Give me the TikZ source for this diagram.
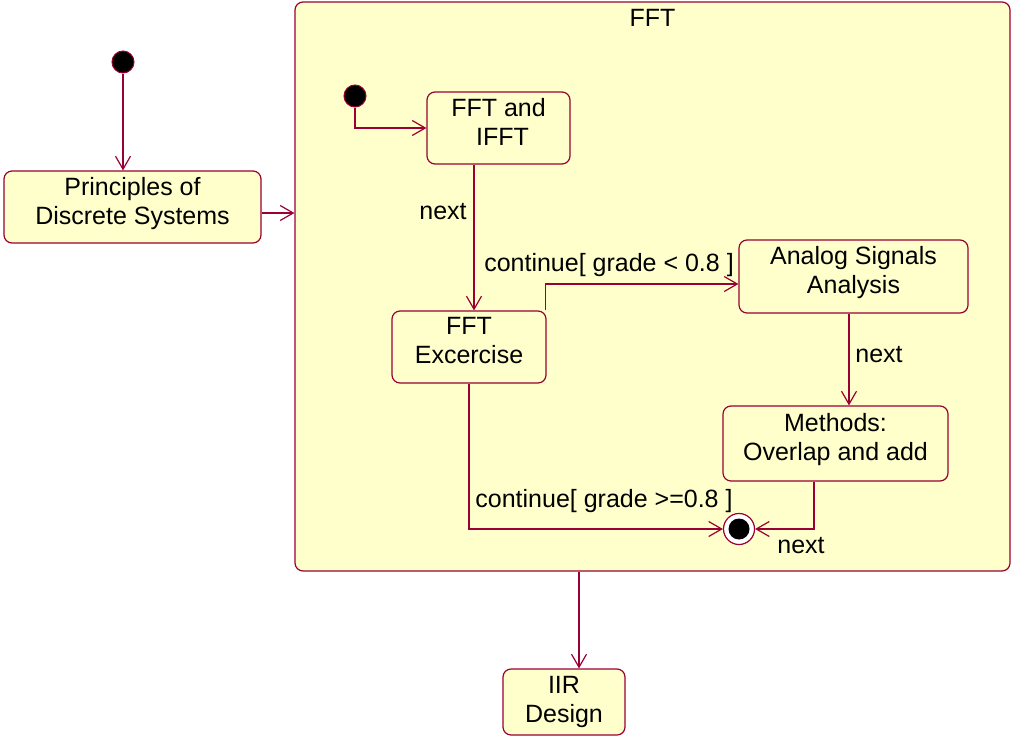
\documentclass[tikz,border=0pt]{standalone}
\usepackage{fontspec}
\setmainfont{Liberation Sans}
\usepackage{tikz}
\usetikzlibrary{calc,arrows.meta,positioning}

\definecolor{umlfill}{HTML}{FFFFCC}
\definecolor{umlline}{HTML}{990033}

\begin{document}
\begin{tikzpicture}[
    x=1pt, y=-1pt,
    font=\fontsize{25}{29}\selectfont,
    state/.style={rectangle, rounded corners=8pt, draw=umlline, fill=umlfill, line width=1.2pt, align=center, inner sep=0pt},
    toptext/.style={text depth=13pt},
    startdot/.style={circle, fill=black, draw=umlline, line width=1pt, minimum size=22pt, inner sep=0pt},
    arrow/.style={-{Straight Barb[length=13pt, width=15pt]}, draw=umlline, line width=1.2pt},
    guard/.style={inner sep=1pt}
]
    \useasboundingbox (0,0) rectangle (1011,736);
    % composite state
    \node[state, minimum width=715pt, minimum height=569pt] (fft) at (652.5,286.5) {};
    \node[below=4pt of fft.north] (ffttitle) {FFT};
    % outer states
    \node[startdot] (start) at (123,62) {};
    \node[state, toptext, minimum width=257pt, minimum height=72pt] (principles) at (132.5,207) {Principles of\\Discrete Systems};
    \node[state, minimum width=122pt, minimum height=66pt] (iir) at (564,702) {IIR\\Design};
    % inner states
    \node[startdot] (innerstart) at (355,96) {};
    \node[state, toptext, minimum width=143pt, minimum height=72pt] (fftifft) at (498.5,128) {FFT and\\\hspace*{8pt}IFFT};
    \node[state, toptext, minimum width=154pt, minimum height=72pt] (exercise) at (469,347) {FFT\\Excercise};
    \node[state, toptext, minimum width=229pt, minimum height=73pt] (analog) at (853.5,276.5) {Analog Signals\\Analysis};
    \node[state, toptext, minimum width=225pt, minimum height=75pt] (methods) at (835.5,443.5) {Methods:\\Overlap and add};
    \node[circle, draw=umlline, fill=white, line width=1.2pt, minimum size=31pt, inner sep=0pt] (final) at (739,529) {};
    \node[circle, fill=black, minimum size=21pt, inner sep=0pt] (finaldot) at (final) {};
    % connectors
    \draw[arrow] (start) -- (start |- principles.north);
    \coordinate (princright) at ($(principles.east)+(0,6)$);
    \draw[arrow] (princright) -- (princright -| fft.west);
    \coordinate (iirtop) at ($(iir.north)+(15,0)$);
    \draw[arrow] (fft.south -| iirtop) -- (iirtop);
    \draw[arrow] (innerstart) |- (fftifft.west);
    \coordinate (extop) at ($(exercise.north)+(5,0)$);
    \draw[arrow] (fftifft.south -| extop) -- (extop);
    \draw[arrow] ($(exercise.north east)+(-1.5,0)$) |- ($(analog.west)+(0,7.5)$);
    \draw[arrow] (analog.south -| 849,0) -- (methods.north -| 849,0);
    \draw[arrow] (methods.south -| 814,0) |- (final.east);
    \draw[arrow] (exercise.south) |- (final.west);
    % labels
    \node[guard] (nextone) at (443,212) {next};
    \node[guard] (guardlow) at (609,265) {continue[ grade < 0.8 ]};
    \node[guard] (nexttwo) at (879,355) {next};
    \node[guard] (guardhigh) at (604,501) {continue[ grade >=0.8 ]};
    \node[guard] (nextthree) at (801,546) {next};
\end{tikzpicture}
\end{document}
